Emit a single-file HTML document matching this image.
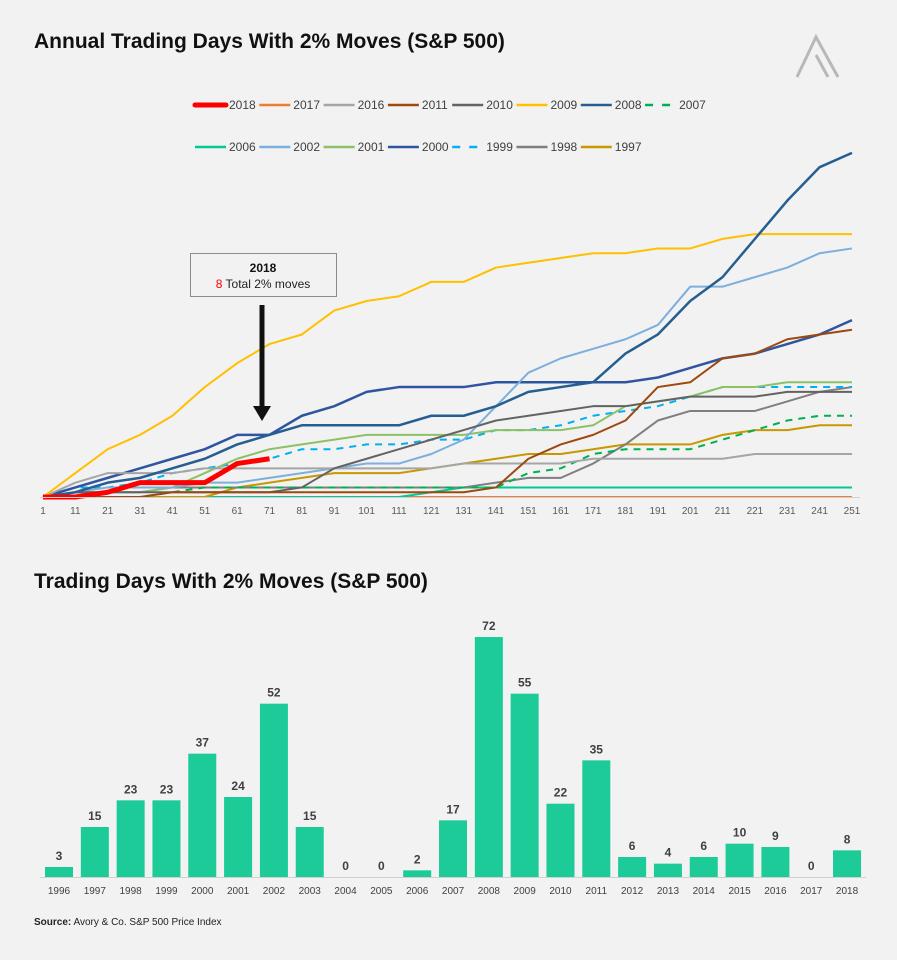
<!DOCTYPE html>
<html><head><meta charset="utf-8">
<style>
body{margin:0;background:#f2f2f2;font-family:"Liberation Sans",sans-serif;}
#wrap{position:relative;width:897px;height:960px;background:#f2f2f2;overflow:hidden;}
svg text{font-family:"Liberation Sans",sans-serif;}
</style></head>
<body>
<div id="wrap">
<svg id="svg" width="897" height="960">
  <text x="34" y="48" font-size="21" font-weight="bold" fill="#111">Annual Trading Days With 2% Moves (S&amp;P 500)</text>
  <g fill="none" stroke="#b8b8b8" stroke-width="3">
    <polyline points="797,77 816,37 838,77"/>
    <line x1="816" y1="55" x2="828" y2="77"/>
  </g>
  <g id="legend"></g>
  <g id="lines"></g>
  <g id="xaxis"></g>
  <g>
    <rect x="190.5" y="253.5" width="146" height="43" fill="#f2f2f2" stroke="#8c8c8c" stroke-width="1"/>
    <text x="263" y="272" text-anchor="middle" font-size="12" font-weight="bold" fill="#111">2018</text>
    <text x="263" y="288" text-anchor="middle" font-size="12" fill="#222"><tspan fill="#ff0000">8</tspan> Total 2% moves</text>
  </g>
  <g>
    <rect x="259.5" y="305" width="5" height="103" fill="#111"/>
    <polygon points="253,406 271,406 262,421" fill="#111"/>
  </g>
  <text x="34" y="588" font-size="21" font-weight="bold" fill="#111">Trading Days With 2% Moves (S&amp;P 500)</text>
  <g id="bars"></g>
  <text x="34" y="925" font-size="10" fill="#222"><tspan font-weight="bold">Source:</tspan> Avory &amp; Co. S&amp;P 500 Price Index</text>
</svg>
</div>
<script>
// ---- Line chart data (cumulative 2% move days sampled at tick days) ----
const tickDays = [1,11,21,31,41,51,61,71,81,91,101,111,121,131,141,151,161,171,181,191,201,211,221,231,241,251];
const seriesNames = ["2018","2017","2016","2011","2010","2009","2008","2007","2006","2002","2001","2000","1999","1998","1997"];
const v2018 = [0,0,1,3,3,3,7,8];
const v2017 = [0,0,0,0,0,0,0,0,0,0,0,0,0,0,0,0,0,0,0,0,0,0,0,0,0,0];
const v2016 = [0,3,5,5,5,6,6,6,6,6,6,6,6,7,7,7,7,8,8,8,8,8,9,9,9,9];
const v2011 = [0,0,0,0,1,1,1,1,1,1,1,1,1,1,2,8,11,13,16,23,24,29,30,33,34,35];
const v2010 = [0,1,1,1,1,1,1,1,2,6,8,10,12,14,16,17,18,19,19,20,21,21,21,22,22,22];
const v2009 = [0,5,10,13,17,23,28,32,34,39,41,42,45,45,48,49,50,51,51,52,52,54,55,55,55,55];
const v2008 = [0,1,3,4,6,8,11,13,15,15,15,15,17,17,19,22,23,24,30,34,41,46,54,62,69,72];
const v2007 = [0,0,0,0,1,2,2,2,2,2,2,2,2,2,2,5,6,9,10,10,10,12,14,16,17,17];
const v2006 = [0,0,0,0,0,0,0,0,0,0,0,0,1,2,2,2,2,2,2,2,2,2,2,2,2,2];
const v2002 = [0,1,2,2,2,3,3,4,5,6,7,7,9,12,19,26,29,31,33,36,44,44,46,48,51,52];
const v2001 = [0,1,1,1,2,5,8,10,11,12,13,13,13,13,14,14,14,15,19,20,21,23,23,24,24,24];
const v2000 = [0,2,4,6,8,10,13,13,17,19,22,23,23,23,24,24,24,24,24,25,27,29,30,32,34,37];
const v1999 = [0,2,2,3,5,6,7,8,10,10,11,11,12,12,14,14,15,17,18,19,21,23,23,23,23,23];
const v1998 = [0,1,1,1,2,2,2,2,2,2,2,2,2,2,3,4,4,7,11,16,18,18,18,20,22,23];
const v1997 = [0,0,0,0,0,0,2,3,4,5,5,5,6,7,8,9,9,10,11,11,11,13,14,14,15,15];
// ---- Bar chart data ----
const barYears = ["1996","1997","1998","1999","2000","2001","2002","2003","2004","2005","2006","2007","2008","2009","2010","2011","2012","2013","2014","2015","2016","2017","2018"];
const barValues = [3,15,23,23,37,24,52,15,0,0,2,17,72,55,22,35,6,4,6,10,9,0,8];

const NS="http://www.w3.org/2000/svg";
function mk(tag,attrs,parent){const e=document.createElementNS(NS,tag);for(const k in attrs)e.setAttribute(k,attrs[k]);parent.appendChild(e);return e;}
const xDay = d => 43 + (d-1)*3.236;
const yVal = v => 497 - v*4.78;

const styles = {
 "2018":{c:"#ff0000",w:5,d:""},"2017":{c:"#ed7d31",w:2,d:""},"2016":{c:"#a5a5a5",w:2,d:""},
 "2011":{c:"#9e480e",w:2,d:""},"2010":{c:"#636363",w:2,d:""},"2009":{c:"#ffc000",w:2,d:""},
 "2008":{c:"#255e91",w:2.5,d:""},"2007":{c:"#00b050",w:2,d:"7,6"},"2006":{c:"#00c896",w:2,d:""},
 "2002":{c:"#7cafdd",w:2,d:""},"2001":{c:"#8cc168",w:2,d:""},"2000":{c:"#2f55a0",w:2.5,d:""},
 "1999":{c:"#00b0f0",w:2,d:"7,6"},"1998":{c:"#7f7f7f",w:2,d:""},"1997":{c:"#c89800",w:2,d:""}
};
const dataMap = {"2018":v2018,"2017":v2017,"2016":v2016,"2011":v2011,"2010":v2010,"2009":v2009,"2008":v2008,"2007":v2007,"2006":v2006,"2002":v2002,"2001":v2001,"2000":v2000,"1999":v1999,"1998":v1998,"1997":v1997};

// axis
const xa=document.getElementById('xaxis');
const axl=mk('line',{x1:40,y1:497.5,x2:860,y2:497.5,stroke:'#d0d0d0','stroke-width':1},xa);


tickDays.forEach(d=>{
  const t=mk('text',{x:xDay(d),y:514,'text-anchor':'middle','font-size':10,fill:'#595959'},xa);
  t.textContent=d;
  
  
});

// lines
const lg=document.getElementById('lines');
const order=["2017","2006","1997","1998","1999","2000","2001","2002","2007","2016","2010","2011","2009","2008","2018"];
order.forEach(name=>{
  const vals=dataMap[name], s=styles[name];
  const pts=vals.map((v,i)=>xDay(tickDays[i])+","+yVal(v));
  const p=mk('polyline',{points:pts.join(' '),fill:'none',stroke:s.c,'stroke-width':s.w,'stroke-dasharray':s.d,'stroke-linejoin':'round'},lg);
  
  
});

// legend
const leg=document.getElementById('legend');
seriesNames.forEach((name,i)=>{
  const row=i<8?0:1, col=i<8?i:i-8;
  const x0=195+col*64.3, y0=row?147:105;
  const s=styles[name];
  const g=mk('g',{},leg);
  
  
  mk('line',{x1:x0,y1:y0,x2:x0+31,y2:y0,stroke:s.c,'stroke-width':name==="2018"?5:2.5,'stroke-dasharray':s.d?"8,9":"",'stroke-linecap':name==="2018"?"round":"butt"},g);
  const t=mk('text',{x:x0+34,y:y0+4,'font-size':12,fill:'#404040'},g);
  t.textContent=name;
});

// bars
const bg=document.getElementById('bars');
const bx=i=>59+i*35.82, by=v=>877-v*3.333;
barValues.forEach((v,i)=>{
  const r=mk('rect',{x:bx(i)-14,y:by(v),width:28,height:877-by(v),fill:'#1ccb97'},bg);
  
  
  const t=mk('text',{x:bx(i),y:by(v)-7,'text-anchor':'middle','font-size':12,'font-weight':'bold',fill:'#404040'},bg);
  t.textContent=v;
  
  
  const l=mk('text',{x:bx(i),y:894,'text-anchor':'middle','font-size':10,fill:'#404040'},bg);
  l.textContent=barYears[i];
  
  
});
const bl=mk('line',{x1:40,y1:877.5,x2:866,y2:877.5,stroke:'#d0d0d0','stroke-width':1},bg);


</script>
</body></html>
